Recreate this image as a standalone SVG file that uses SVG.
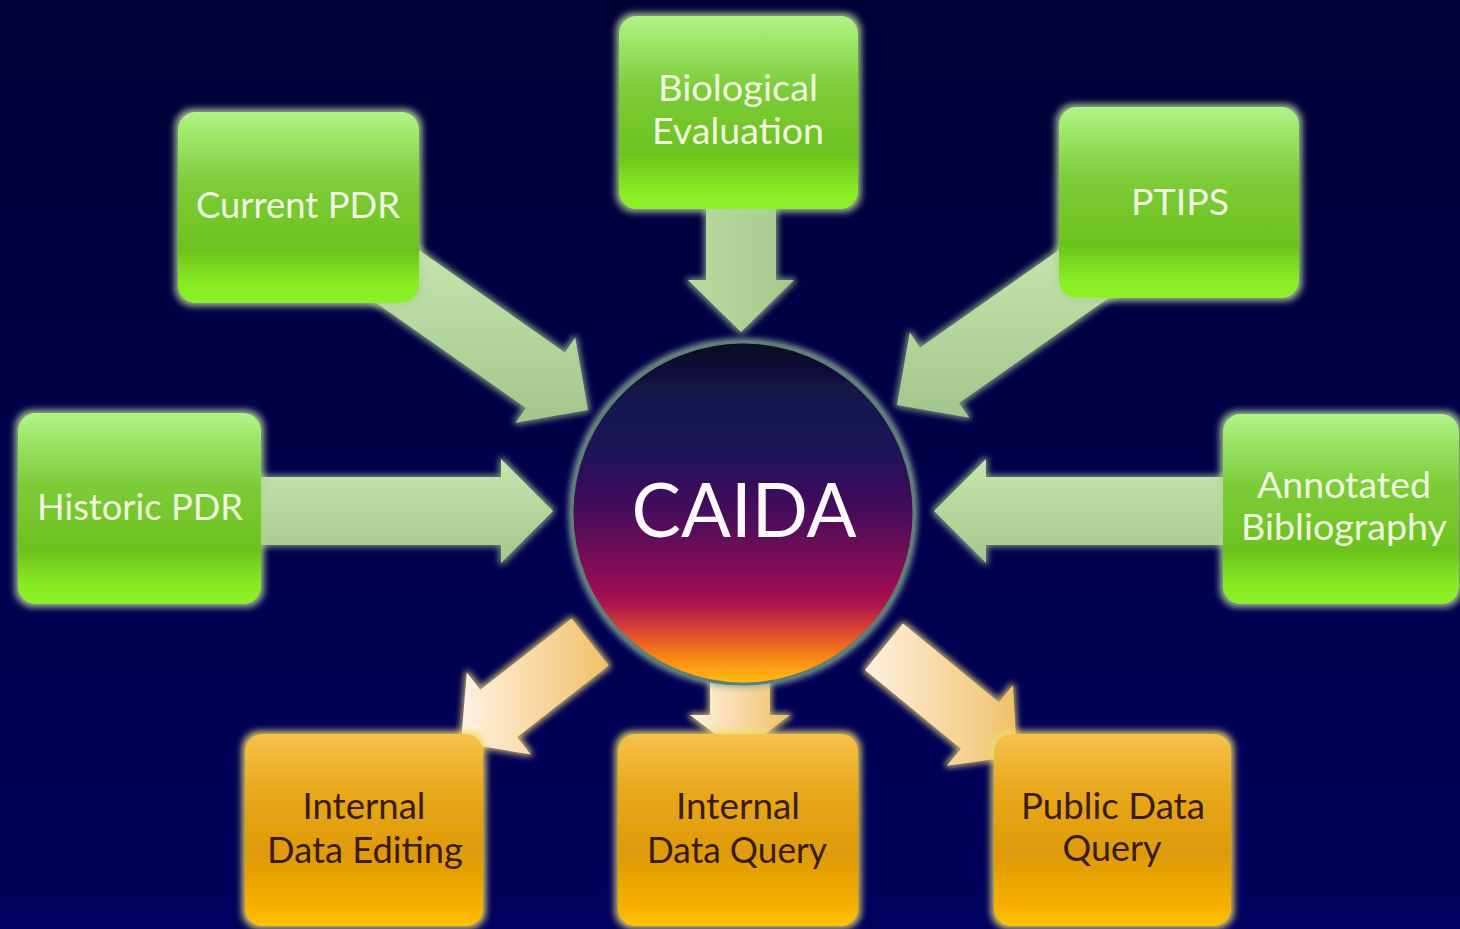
<svg xmlns="http://www.w3.org/2000/svg" width="1460" height="929" viewBox="0 0 1460 929">
<defs>
<linearGradient id="bg" x1="0" y1="0" x2="0" y2="1">
<stop offset="0" stop-color="#000036"/>
<stop offset="1" stop-color="#00005e"/>
</linearGradient>
<linearGradient id="gBox" x1="0" y1="0" x2="0" y2="1">
<stop offset="0" stop-color="#b2f488"/>
<stop offset="0.15" stop-color="#9ae466"/>
<stop offset="0.38" stop-color="#7ccc38"/>
<stop offset="0.72" stop-color="#6cc21e"/>
<stop offset="0.9" stop-color="#88ec22"/>
<stop offset="1" stop-color="#8ef02a"/>
</linearGradient>
<linearGradient id="oBox" x1="0" y1="0" x2="0" y2="1">
<stop offset="0" stop-color="#f6c24a"/>
<stop offset="0.3" stop-color="#e8a81c"/>
<stop offset="0.62" stop-color="#de9a08"/>
<stop offset="0.9" stop-color="#f6b000"/>
<stop offset="1" stop-color="#ffc400"/>
</linearGradient>
<linearGradient id="gArrow" x1="0" y1="0" x2="0" y2="1">
<stop offset="0" stop-color="#c6e8ae"/>
<stop offset="1" stop-color="#a2c68c"/>
</linearGradient>
<linearGradient id="gArrowV" x1="0" y1="0" x2="1" y2="0">
<stop offset="0" stop-color="#b8dca0"/>
<stop offset="1" stop-color="#a4c88e"/>
</linearGradient>
<linearGradient id="oArrow" x1="0" y1="0" x2="1" y2="0">
<stop offset="0" stop-color="#fff2e2"/>
<stop offset="1" stop-color="#f0c068"/>
</linearGradient>
<linearGradient id="core" x1="0" y1="0" x2="0" y2="1">
<stop offset="0" stop-color="#0e0c22"/>
<stop offset="0.17" stop-color="#141450"/>
<stop offset="0.32" stop-color="#1e1258"/>
<stop offset="0.5" stop-color="#48105c"/>
<stop offset="0.64" stop-color="#7a0c56"/>
<stop offset="0.76" stop-color="#a81250"/>
<stop offset="0.85" stop-color="#e04a30"/>
<stop offset="0.92" stop-color="#f88414"/>
<stop offset="1" stop-color="#ffc010"/>
</linearGradient>
<filter id="glowG" x="-20%" y="-20%" width="140%" height="140%">
<feMorphology in="SourceAlpha" operator="dilate" radius="3" result="d"/>
<feGaussianBlur in="d" stdDeviation="3.5" result="b"/>
<feFlood flood-color="#b4d498" flood-opacity="0.9"/>
<feComposite in2="b" operator="in" result="g"/>
<feMerge><feMergeNode in="g"/><feMergeNode in="SourceGraphic"/></feMerge>
</filter>
<filter id="glowO" x="-20%" y="-20%" width="140%" height="140%">
<feMorphology in="SourceAlpha" operator="dilate" radius="3" result="d"/>
<feGaussianBlur in="d" stdDeviation="3.5" result="b"/>
<feFlood flood-color="#eedc6a" flood-opacity="0.9"/>
<feComposite in2="b" operator="in" result="g"/>
<feMerge><feMergeNode in="g"/><feMergeNode in="SourceGraphic"/></feMerge>
</filter>
<filter id="glowA" x="-20%" y="-20%" width="140%" height="140%">
<feMorphology in="SourceAlpha" operator="dilate" radius="2" result="d"/>
<feGaussianBlur in="d" stdDeviation="3" result="b"/>
<feFlood flood-color="#8aa886" flood-opacity="0.85"/>
<feComposite in2="b" operator="in" result="g"/>
<feMerge><feMergeNode in="g"/><feMergeNode in="SourceGraphic"/></feMerge>
</filter>
<filter id="glowAO" x="-20%" y="-20%" width="140%" height="140%">
<feMorphology in="SourceAlpha" operator="dilate" radius="2" result="d"/>
<feGaussianBlur in="d" stdDeviation="3" result="b"/>
<feFlood flood-color="#d8c870" flood-opacity="0.85"/>
<feComposite in2="b" operator="in" result="g"/>
<feMerge><feMergeNode in="g"/><feMergeNode in="SourceGraphic"/></feMerge>
</filter>
<filter id="glowC" x="-10%" y="-10%" width="120%" height="120%">
<feMorphology in="SourceAlpha" operator="dilate" radius="2" result="d"/>
<feGaussianBlur in="d" stdDeviation="3" result="b"/>
<feFlood flood-color="#8aa89a" flood-opacity="0.9"/>
<feComposite in2="b" operator="in" result="g"/>
<feMerge><feMergeNode in="g"/><feMergeNode in="SourceGraphic"/></feMerge>
</filter>
</defs>
<style>
.gbox{fill:url(#gBox);filter:url(#glowG);}
.obox{fill:url(#oBox);filter:url(#glowO);}
.garrow{fill:url(#gArrow);filter:url(#glowA);}
.garrowv{fill:url(#gArrowV);filter:url(#glowA);}
.oarrow{fill:url(#oArrow);filter:url(#glowAO);}
.gt{font-family:Lato,"Open Sans","Liberation Sans",sans-serif;font-size:36px;fill:#f0f6e0;text-anchor:middle;}
.ot{font-family:Lato,"Open Sans","Liberation Sans",sans-serif;font-size:36px;fill:#3a1c05;text-anchor:middle;}
.ct{font-family:Lato,"Open Sans","Liberation Sans",sans-serif;font-size:76px;fill:#fff8fc;text-anchor:middle;}
</style>
<rect x="0" y="0" width="1460" height="929" fill="url(#bg)"/>

<g id="connectors">
<polygon class="garrow" points="245,477 501,477 501,459 553,511 501,563 501,545 245,545"/>
<polygon class="garrow" points="1240,477 986,477 986,459 934,511 986,563 986,545 1240,545"/>
<polygon class="garrowv" points="706,195 776,195 776,280 794,280 741,332 688,280 706,280"/>
<polygon class="garrow" points="402.8,238.7 564.9,352.4 575.2,337.6 588,410 515.6,422.8 525.9,408 363.8,294.3"/>
<polygon class="garrow" points="1082.2,233.7 920.1,347.4 909.8,332.6 897,405 969.4,417.8 959.1,403 1121.2,289.3"/>
<polygon class="oarrow" points="608.7,665.6 517.3,737 530.8,754.4 461,743 466.8,672.4 480.3,689.8 571.7,618.4"/>
<polygon class="oarrow" points="710,660 770,660 770,715 790,715 740,753 690,715 710,715"/>
<polygon class="oarrow" points="903,623.6 998.9,702.3 1012.9,685.3 1017,756 946.9,765.7 960.9,748.7 865,670"/>
</g>

<g id="caida">
<circle cx="743" cy="513" r="171" fill="url(#core)" stroke="#5e7e74" stroke-width="3" filter="url(#glowC)"/>
<text class="ct" x="744" y="537" textLength="225" lengthAdjust="spacingAndGlyphs">CAIDA</text>
</g>

<g id="biological-evaluation">
<rect class="gbox" x="619" y="16" width="239" height="193" rx="18"/>
<text class="gt" x="738" y="101" textLength="160" lengthAdjust="spacingAndGlyphs">Biological</text>
<text class="gt" x="738" y="144" textLength="172" lengthAdjust="spacingAndGlyphs">Evaluation</text>
</g>

<g id="current-pdr">
<rect class="gbox" x="178" y="112" width="241" height="191" rx="18"/>
<text class="gt" x="298" y="218" textLength="204" lengthAdjust="spacingAndGlyphs">Current PDR</text>
</g>

<g id="ptips">
<rect class="gbox" x="1059" y="107" width="240" height="191" rx="18"/>
<text class="gt" x="1180" y="215" textLength="98" lengthAdjust="spacingAndGlyphs">PTIPS</text>
</g>

<g id="historic-pdr">
<rect class="gbox" x="18" y="413" width="243" height="191" rx="18"/>
<text class="gt" x="140" y="520" textLength="206" lengthAdjust="spacingAndGlyphs">Historic PDR</text>
</g>

<g id="annotated-bibliography">
<rect class="gbox" x="1223" y="414" width="236" height="190" rx="18"/>
<text class="gt" x="1344" y="498" textLength="174" lengthAdjust="spacingAndGlyphs">Annotated</text>
<text class="gt" x="1344" y="540" textLength="206" lengthAdjust="spacingAndGlyphs">Bibliography</text>
</g>

<g id="internal-data-editing">
<rect class="obox" x="245" y="734" width="238" height="192" rx="18"/>
<text class="ot" x="364" y="819" textLength="123" lengthAdjust="spacingAndGlyphs">Internal</text>
<text class="ot" x="365" y="863" textLength="196" lengthAdjust="spacingAndGlyphs">Data Editing</text>
</g>

<g id="internal-data-query">
<rect class="obox" x="618" y="734" width="240" height="192" rx="18"/>
<text class="ot" x="738" y="819" textLength="124" lengthAdjust="spacingAndGlyphs">Internal</text>
<text class="ot" x="737" y="863" textLength="180" lengthAdjust="spacingAndGlyphs">Data Query</text>
</g>

<g id="public-data-query">
<rect class="obox" x="994" y="734" width="237" height="192" rx="18"/>
<text class="ot" x="1113" y="819" textLength="184" lengthAdjust="spacingAndGlyphs">Public Data</text>
<text class="ot" x="1112" y="861" textLength="99" lengthAdjust="spacingAndGlyphs">Query</text>
</g>
</svg>
